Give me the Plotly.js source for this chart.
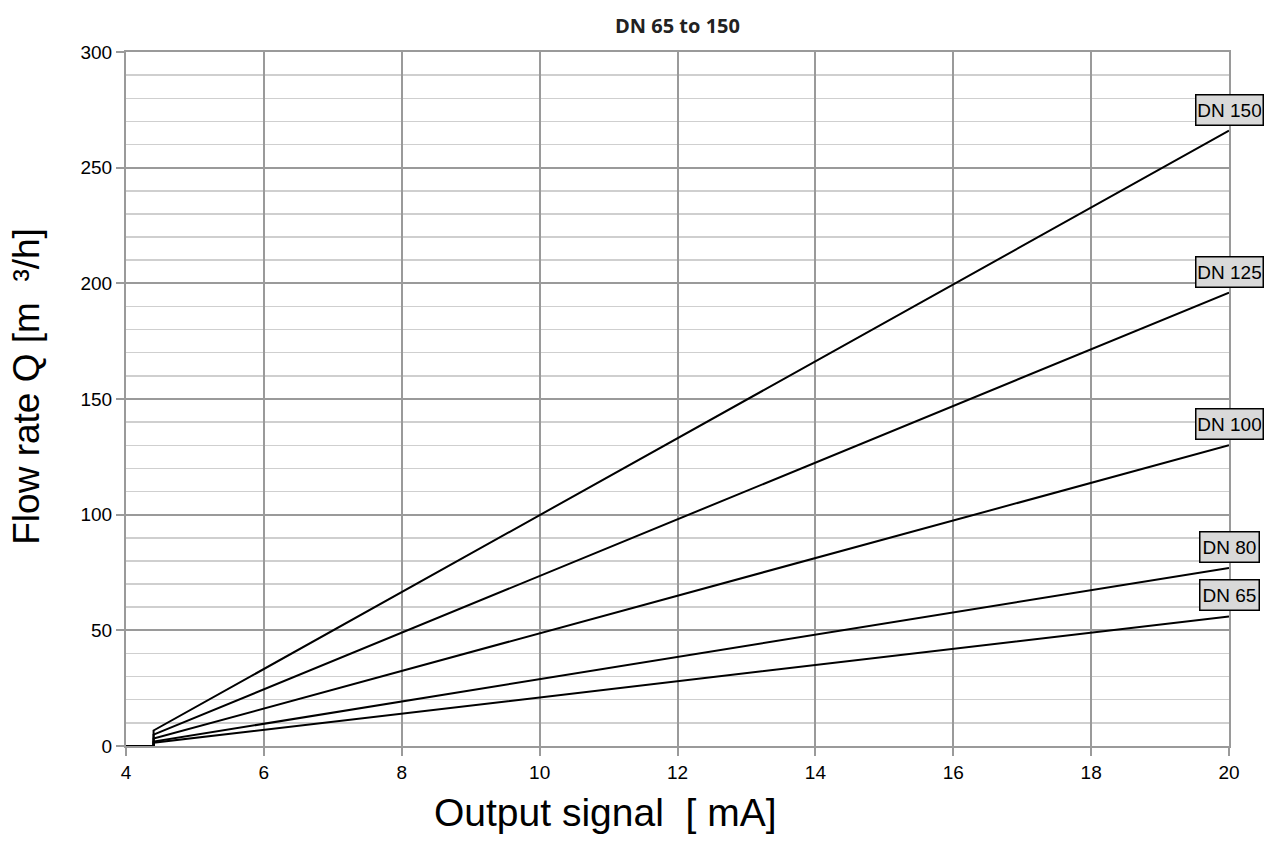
<!DOCTYPE html>
<html>
<head>
<meta charset="utf-8">
<script src="https://cdn.plot.ly/plotly-3.0.1.min.js"></script>
<style>html,body{margin:0;padding:0;background:#fff;}#chart{width:1274px;height:842px;}</style>
</head>
<body>
<div id="chart"></div>
<script>
// Output signal [mA] points for every curve
const signal = [4, 4.4, 4.4, 20];
const seriesNames = ["DN 150", "DN 125", "DN 100", "DN 80", "DN 65"];
// Flow rate Q [m³/h]
const dn150 = [0, 0, 6.7, 266];
const dn125 = [0, 0, 4.9, 196];
const dn100 = [0, 0, 3.2, 130];
const dn80  = [0, 0, 1.9, 77];
const dn65  = [0, 0, 1.4, 56];
const xTicks = [4, 6, 8, 10, 12, 14, 16, 18, 20];
const yTicks = [0, 50, 100, 150, 200, 250, 300];
const xTitle = 'Output signal  [ mA]';
const yTitle = 'Flow rate Q [m  ³/h]';

const allSeries = [dn150, dn125, dn100, dn80, dn65];

const traces = allSeries.map((vals, i) => ({
  x: signal,
  y: vals,
  type: 'scatter',
  mode: 'lines',
  name: seriesNames[i],
  line: {color: '#000', width: 2},
  hoverinfo: 'x+y+name'
}));

const font = 'Liberation Sans, Arial, sans-serif';

const annotations = allSeries.map((vals, i) => ({
  x: signal[signal.length - 1],
  y: vals[vals.length - 1],
  xref: 'x', yref: 'y',
  text: seriesNames[i],
  showarrow: false,
  xanchor: 'center',
  yanchor: 'bottom',
  yshift: 5,
  width: seriesNames[i].length > 5 ? 64 : 56,
  height: 27,
  bgcolor: '#d9d9d9',
  bordercolor: '#000',
  borderwidth: 1.5,
  borderpad: 1,
  font: {family: font, size: 19, color: '#000'}
}));

annotations.push({
  xref: 'paper', yref: 'paper',
  x: 0.435, y: -0.096,
  xanchor: 'center', yanchor: 'middle',
  text: xTitle,
  showarrow: false,
  font: {family: font, size: 39, color: '#000'}
});
annotations.push({
  xref: 'paper', yref: 'paper',
  x: -0.0898, y: 0.519,
  xanchor: 'center', yanchor: 'middle',
  textangle: -90,
  text: yTitle,
  showarrow: false,
  font: {family: font, size: 37, color: '#000'}
});

const axisFont = {family: font, size: 19, color: '#000'};

const layout = {
  width: 1274,
  height: 842,
  margin: {l: 126, r: 45, t: 52, b: 96},
  paper_bgcolor: '#fff',
  plot_bgcolor: '#fff',
  showlegend: false,
  title: {
    text: '<b>DN 65 to 150</b>',
    font: {family: 'Open Sans, sans-serif', size: 20, color: '#222'},
    x: 0.5318, xanchor: 'center',
    y: 0.969, yanchor: 'middle'
  },
  xaxis: {
    range: [4, 20],
    tickvals: xTicks,
    ticktext: xTicks.map(String),
    showgrid: true,
    gridcolor: '#9a9a9a',
    gridwidth: 2,
    zeroline: false,
    showline: true,
    mirror: true,
    linecolor: '#9a9a9a',
    linewidth: 2,
    ticks: 'outside',
    ticklen: 8,
    tickcolor: '#9a9a9a',
    tickwidth: 2,
    tickfont: axisFont
  },
  yaxis: {
    range: [0, 300],
    tickvals: yTicks,
    ticktext: yTicks.map(String),
    showgrid: true,
    gridcolor: '#9a9a9a',
    gridwidth: 2,
    zeroline: false,
    showline: true,
    mirror: true,
    linecolor: '#9a9a9a',
    linewidth: 2,
    ticks: 'outside',
    ticklen: 8,
    tickcolor: '#9a9a9a',
    tickwidth: 2,
    tickfont: axisFont,
    minor: {dtick: 10, showgrid: true, gridcolor: '#cfcfcf', gridwidth: 1.5}
  },
  annotations: annotations
};

Plotly.newPlot('chart', traces, layout, {displayModeBar: false, staticPlot: true});
</script>
</body>
</html>
